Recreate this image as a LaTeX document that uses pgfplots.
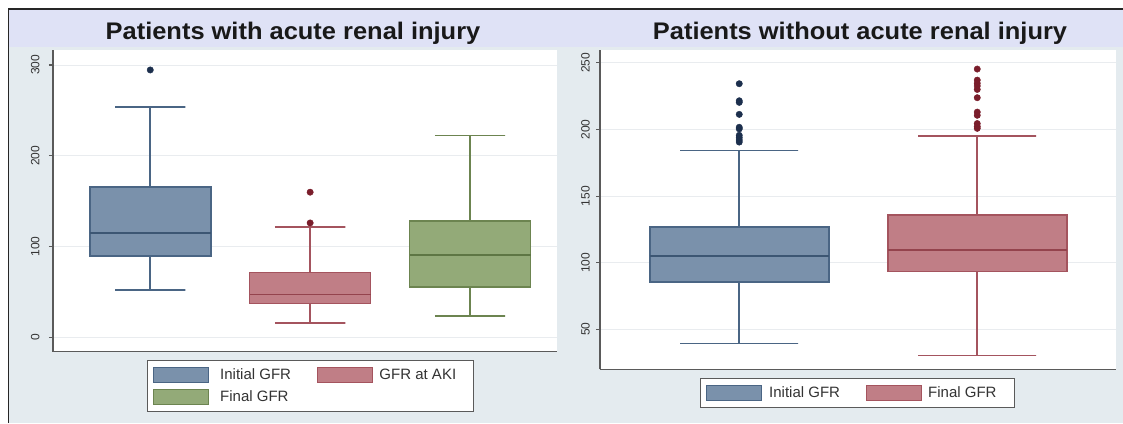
\documentclass[border=0pt]{standalone}
\usepackage{fontspec}
\setmainfont{Liberation Sans}
\usepackage{pgfplots}
\pgfplotsset{compat=1.18}
\definecolor{bgc}{HTML}{E4EBEF}
\definecolor{titleband}{HTML}{DFE2F6}
\definecolor{blueF}{HTML}{7A91AB}
\definecolor{blueD}{HTML}{4A6584}
\definecolor{blueM}{HTML}{3C5673}
\definecolor{blueO}{HTML}{1C2F4D}
\definecolor{redF}{HTML}{C07E86}
\definecolor{redD}{HTML}{A4545E}
\definecolor{redM}{HTML}{94434D}
\definecolor{redO}{HTML}{7A1D2B}
\definecolor{greenF}{HTML}{93AA78}
\definecolor{greenD}{HTML}{6C8450}
\definecolor{greenM}{HTML}{5E7644}
\definecolor{axc}{HTML}{5A5A5A}
\definecolor{gridc}{HTML}{E9ECEF}
\definecolor{txt}{HTML}{333333}

\pgfplotsset{
  swatch/.style={legend image code/.code={\draw[#1, line width=1pt] (0pt,-7.5pt) rectangle (55pt,7.5pt);}},
  boxpart/.style={forget plot, line width=1.6pt, mark=none},
  outl/.style={forget plot, only marks, mark=*, mark size=3.2pt},
  gfrbase/.style={
    scale only axis,
    axis lines*=left,
    axis line style={draw=axc, line width=1.3pt},
    xtick=\empty,
    ytick pos=left,
    tick align=outside,
    major tick length=4pt,
    ytick style={draw=axc, line width=1.1pt},
    ymajorgrids,
    major grid style={draw=gridc, line width=0.9pt},
    axis background/.style={fill=white},
    /pgf/number format/assume math mode=true,
    yticklabel style={rotate=90, anchor=south, inner sep=0pt, font=\fontsize{12}{12}\selectfont, text=txt},
    legend columns=2,
    legend cell align=left,
    legend style={draw=axc, line width=1.1pt, fill=white,
      font=\fontsize{15}{15}\selectfont, text=txt,
      inner ysep=6.5pt, row sep=5.5pt,
      column sep=0pt,
      nodes={inner sep=0pt}},
  },
}

\begin{document}
\begin{tikzpicture}
\useasboundingbox (0pt,0pt) rectangle (1123pt,423pt);
\fill[white] (0pt,0pt) rectangle (1123pt,423pt);
\fill[bgc] (8.5pt,0pt) rectangle (1123pt,414pt);
\fill[titleband] (8.5pt,376pt) rectangle (1123pt,414pt);
\draw[black!85, line width=1.5pt] (8.5pt,0pt) -- (8.5pt,414pt) -- (1123pt,414pt);
\node[font=\fontsize{24}{28}\selectfont\bfseries, text=black!90, xscale=1.06] at (293pt,390pt) {Patients with acute renal injury};
\node[font=\fontsize{24}{28}\selectfont\bfseries, text=black!90, xscale=1.06] at (860pt,390pt) {Patients without acute renal injury};

% Left panel
\begin{axis}[gfrbase,
  at={(52.9pt,71.5pt)}, anchor=south west,
  width=504.1pt, height=301.5pt,
  xmin=0.391, xmax=3.544, ymin=-15.8, ymax=316.5,
  ytick={0,100,200,300},
  yticklabel style={yshift=9.2pt},
  legend style={at={(0.511,0)}, anchor=north, yshift=-8.5pt, inner xsep=5.7pt,
    /tikz/column 1/.style={column sep=10.7pt},
    /tikz/column 2/.style={column sep=8.7pt},
    /tikz/column 3/.style={column sep=6.6pt}},
]
% Initial GFR
\addplot[boxpart, draw=blueD] coordinates {(0.78,254) (1.22,254) (1,254) (1,165.6)};
\addplot[boxpart, draw=blueD] coordinates {(0.78,52.3) (1.22,52.3) (1,52.3) (1,89.4)};
\addplot[boxpart, draw=blueD, fill=blueF] coordinates {(0.6215,89.4) (1.3785,89.4) (1.3785,165.6) (0.6215,165.6)} -- cycle;
\addplot[boxpart, draw=blueM, line width=1.8pt] coordinates {(0.6215,114.8) (1.3785,114.8)};
\addplot[outl, blueO] coordinates {(1,294.5)};
% GFR at AKI
\addplot[boxpart, draw=redD] coordinates {(1.78,121.1) (2.22,121.1) (2,121.1) (2,71.4)};
\addplot[boxpart, draw=redD] coordinates {(1.78,15.9) (2.22,15.9) (2,15.9) (2,36.9)};
\addplot[boxpart, draw=redD, fill=redF] coordinates {(1.6215,36.9) (2.3785,36.9) (2.3785,71.4) (1.6215,71.4)} -- cycle;
\addplot[boxpart, draw=redM, line width=1.8pt] coordinates {(1.6215,47.1) (2.3785,47.1)};
\addplot[outl, redO] coordinates {(2,159.8) (2,125.9)};
% Final GFR
\addplot[boxpart, draw=greenD] coordinates {(2.78,222.4) (3.22,222.4) (3,222.4) (3,127.7)};
\addplot[boxpart, draw=greenD] coordinates {(2.78,23.6) (3.22,23.6) (3,23.6) (3,55.2)};
\addplot[boxpart, draw=greenD, fill=greenF] coordinates {(2.6215,55.2) (3.3785,55.2) (3.3785,127.7) (2.6215,127.7)} -- cycle;
\addplot[boxpart, draw=greenM, line width=1.8pt] coordinates {(2.6215,90.2) (3.3785,90.2)};
\addlegendimage{swatch, draw=blueD, fill=blueF}
\addlegendentry{\makebox[88pt][l]{Initial GFR}}
\addlegendimage{swatch, draw=redD, fill=redF}
\addlegendentry{\makebox[88pt][l]{GFR at AKI}}
\addlegendimage{swatch, draw=greenD, fill=greenF}
\addlegendentry{\makebox[88pt][l]{Final GFR}}
\end{axis}

% Right panel
\begin{axis}[gfrbase,
  at={(600pt,53.7pt)}, anchor=south west,
  width=516pt, height=319.3pt,
  xmin=0.415, xmax=2.583, ymin=20, ymax=259.6,
  ytick={50,100,150,200,250},
  yticklabel style={yshift=6pt},
  legend style={at={(0.4995,0)}, anchor=north, yshift=-8.4pt, inner xsep=5pt,
    /tikz/column 1/.style={column sep=7.6pt},
    /tikz/column 2/.style={column sep=14.7pt},
    /tikz/column 3/.style={column sep=6.6pt}},
]
% Initial GFR
\addplot[boxpart, draw=blueD] coordinates {(0.7525,184.2) (1.2475,184.2) (1,184.2) (1,126.6)};
\addplot[boxpart, draw=blueD] coordinates {(0.7525,39.3) (1.2475,39.3) (1,39.3) (1,85.5)};
\addplot[boxpart, draw=blueD, fill=blueF] coordinates {(0.624,85.5) (1.376,85.5) (1.376,126.6) (0.624,126.6)} -- cycle;
\addplot[boxpart, draw=blueM, line width=1.8pt] coordinates {(0.624,104.8) (1.376,104.8)};
\addplot[outl, blueO] coordinates {(1,234.3) (1,221.5) (1,220.3) (1,211.3) (1,201.6) (1,200.4) (1,195.6) (1,193.8) (1,192.0) (1,190.5)};
% Final GFR
\addplot[boxpart, draw=redD] coordinates {(1.7525,195.1) (2.2475,195.1) (2,195.1) (2,135.6)};
\addplot[boxpart, draw=redD] coordinates {(1.7525,30.5) (2.2475,30.5) (2,30.5) (2,93.5)};
\addplot[boxpart, draw=redD, fill=redF] coordinates {(1.624,93.5) (2.376,93.5) (2.376,135.6) (1.624,135.6)} -- cycle;
\addplot[boxpart, draw=redM, line width=1.8pt] coordinates {(1.624,109.8) (2.376,109.8)};
\addplot[outl, redO] coordinates {(2,245.3) (2,237.0) (2,234.6) (2,232.6) (2,230.0) (2,223.8) (2,213.0) (2,210.6) (2,204.4) (2,202.2) (2,200.8)};
\addlegendimage{swatch, draw=blueD, fill=blueF}
\addlegendentry{\makebox[81.7pt][l]{Initial GFR}}
\addlegendimage{swatch, draw=redD, fill=redF}
\addlegendentry{\makebox[81.7pt][l]{Final GFR}}
\end{axis}
\end{tikzpicture}
\end{document}
